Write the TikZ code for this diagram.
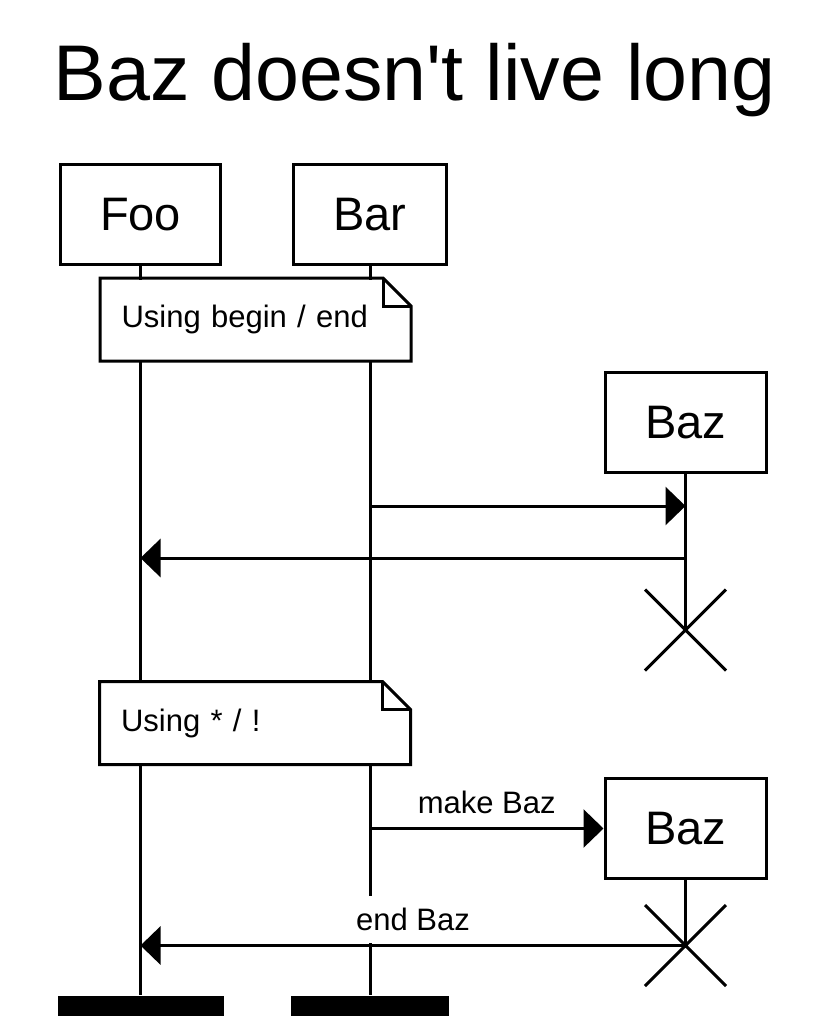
\documentclass[tikz,border=0pt]{standalone}
\usepackage{fontspec}
\setmainfont{Liberation Sans}
\usetikzlibrary{arrows.meta, shapes.misc}

\begin{document}
\begin{tikzpicture}[
        x=1pt, y=-1pt,
        line width=3pt,
        font=\fontsize{31}{36}\selectfont,
        actor/.style={draw, fill=white, minimum height=100pt, inner xsep=40pt, font=\fontsize{47}{54}\selectfont},
        lifeend/.style={fill=black, minimum height=20pt, inner sep=0pt},
        note/.style={fill=white, minimum height=80pt, text width=268pt, inner xsep=20pt, align=left},
        destroy/.style={cross out, draw, minimum size=78pt, inner sep=0pt},
        lbl/.style={midway, above=1.5pt, fill=white, inner xsep=4pt, inner ysep=12pt},
        >={Triangle[length=20pt, width=38pt]}
      ]
        \useasboundingbox (0,0) rectangle (827,1034);
        \node[anchor=base, font=\fontsize{79}{90}\selectfont] (title) at (414.5,100) {Baz doesn\textquotesingle t live long};

        \node[actor] (foo) at (140.5,214.5) {Foo};
        \node[actor] (bar) at (370,214.5) {Bar};
        \node[lifeend, minimum width=166pt] (fooend) at (140.5,1006) {};
        \node[lifeend, minimum width=158pt] (barend) at (370,1006) {};
        \draw (foo.south) -- (foo.south |- fooend.north);
        \draw (bar.south) -- (bar.south |- barend.north);

        \node[note] (note1) at (255.5,319.5) {Using begin / end};
        \draw (note1.north west) -- ([xshift=-28pt]note1.north east) -- ([yshift=-28pt]note1.north east) -- (note1.south east) -- (note1.south west) -- cycle;
        \draw ([xshift=-28pt]note1.north east) |- ([yshift=-28pt]note1.north east);

        \node[actor] (baz1) at (685.5,422.5) {Baz};
        \node[destroy] (kill1) at (685.5,630) {};
        \draw (baz1.south) -- (kill1.center);
        \draw[->] (bar.south |- 0,506) -- (baz1.south |- 0,506);
        \draw[->] (baz1.south |- 0,558) -- (foo.south |- 0,558);

        \node[note] (note2) at (255,723) {Using * / !};
        \draw (note2.north west) -- ([xshift=-28pt]note2.north east) -- ([yshift=-28pt]note2.north east) -- (note2.south east) -- (note2.south west) -- cycle;
        \draw ([xshift=-28pt]note2.north east) |- ([yshift=-28pt]note2.north east);

        \node[actor] (baz2) at (685.5,828.5) {Baz};
        \node[destroy] (kill2) at (685.5,945.5) {};
        \draw (baz2.south) -- (kill2.center);
        \draw[->] (bar.south |- baz2.west) -- node[lbl]{make Baz} (baz2.west);
        \draw[->] (kill2.center) -- node[lbl]{end Baz} (foo.south |- kill2.center);
    \end{tikzpicture}
\end{document}
